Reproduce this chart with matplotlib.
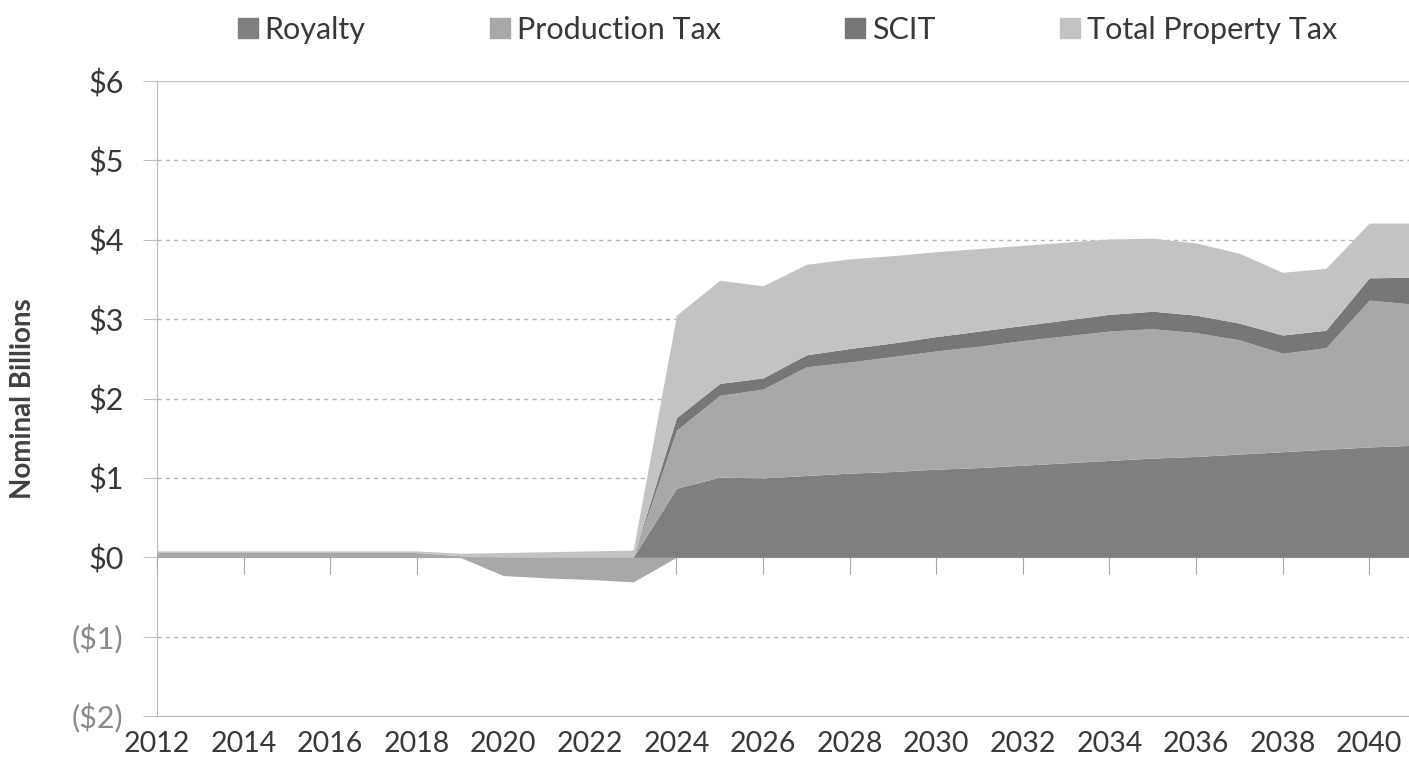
import numpy as np
import matplotlib

matplotlib.use("Agg")
from matplotlib import pyplot as plt  # noqa: E402
from matplotlib.lines import Line2D  # noqa: E402

plt.rcParams["font.family"] = ["Lato", "DejaVu Sans"]

years = list(range(2012, 2042))

# Nominal billions by revenue stream
royalty = [0.00, 0.00, 0.00, 0.00, 0.00, 0.00, 0.00, 0.00, 0.00, 0.00, 0.00, 0.00,
           0.87, 1.01, 1.00, 1.03, 1.06, 1.08, 1.11, 1.13, 1.16, 1.19, 1.22, 1.25,
           1.27, 1.30, 1.33, 1.36, 1.39, 1.41]
production_tax = [0.06, 0.06, 0.06, 0.06, 0.06, 0.06, 0.06, 0.02, -0.23, -0.26, -0.28, -0.31,
                  0.73, 1.03, 1.12, 1.37, 1.40, 1.45, 1.49, 1.53, 1.57, 1.60, 1.63, 1.63,
                  1.56, 1.44, 1.24, 1.28, 1.85, 1.78]
scit = [0.00, 0.00, 0.00, 0.00, 0.00, 0.00, 0.00, 0.00, 0.00, 0.00, 0.00, 0.00,
        0.16, 0.15, 0.14, 0.15, 0.17, 0.17, 0.18, 0.19, 0.19, 0.20, 0.21, 0.22,
        0.22, 0.21, 0.23, 0.22, 0.28, 0.34]
property_tax = [0.02, 0.02, 0.02, 0.02, 0.02, 0.02, 0.02, 0.03, 0.06, 0.07, 0.08, 0.09,
                1.29, 1.30, 1.16, 1.14, 1.13, 1.10, 1.07, 1.04, 1.01, 0.98, 0.95, 0.92,
                0.91, 0.88, 0.79, 0.78, 0.69, 0.68]

series = [
    ("Royalty", royalty, "#7f7f7f"),
    ("Production Tax", production_tax, "#a8a8a8"),
    ("SCIT", scit, "#777777"),
    ("Total Property Tax", property_tax, "#c3c3c3"),
]

fig = plt.figure(figsize=(14.09, 7.76), dpi=100)
ax = fig.add_axes([0.1114, 0.0773, 0.8886, 0.8183])

# positive and negative parts stack away from zero separately
x = np.array(years, dtype=float)
pos_base = np.zeros(len(years))
neg_base = np.zeros(len(years))
for name, values, color in series:
    v = np.array(values, dtype=float)
    pos = np.clip(v, 0, None)
    neg = np.clip(v, None, 0)
    ax.fill_between(x, pos_base, pos_base + pos, color=color, lw=0, zorder=2)
    ax.fill_between(x, neg_base, neg_base + neg, color=color, lw=0, zorder=2)
    pos_base = pos_base + pos
    neg_base = neg_base + neg

ax.set_xlim(2012, 2040.92)
ax.set_ylim(-2, 6)

# dashed gridlines behind the areas
for level in [-1, 1, 2, 3, 4, 5]:
    ax.axhline(level, color="#b5b5b5", lw=1.0, ls=(0, (3, 3)), zorder=0.5)
ax.axhline(6, color="#c8c8c8", lw=1.0, zorder=0.5)

for side in ["top", "right"]:
    ax.spines[side].set_visible(False)
ax.spines["left"].set_color("#b8b8b8")
ax.spines["left"].set_zorder(0.6)
ax.spines["bottom"].set_position(("data", 0))
ax.spines["bottom"].set_color("#a8a8a8")
ax.spines["bottom"].set_zorder(0.6)

# category ticks hang off the zero line, labels sit below the plot
ax.set_xticks(years[::2])
ax.tick_params(axis="x", direction="out", length=12, color="#a8a8a8", labelbottom=False)
bottom_axis = ax.secondary_xaxis(0.0)
bottom_axis.set_xticks(years[::2], labels=[str(y) for y in years[::2]])
bottom_axis.tick_params(length=0, pad=11, labelsize=20.5, labelcolor="#383838")
bottom_axis.spines["bottom"].set_color("#b8b8b8")

yticks = list(range(-2, 7))
ylabels = [f"(${-t})" if t < 0 else f"${t}" for t in yticks]
ax.set_yticks(yticks, labels=ylabels)
ax.tick_params(axis="y", direction="out", length=10, color="#c0c0c0", labelsize=22, pad=14)
for t, lab in zip(yticks, ax.get_yticklabels()):
    lab.set_color("#8a8a8a" if t < 0 else "#383838")

ax.set_ylabel("Nominal Billions", fontsize=20, fontweight="bold", color="#404040", labelpad=26)

handles = [
    Line2D([], [], marker="s", ls="none", markersize=14, color=color, label=name)
    for name, _, color in series
]
fig.legend(handles=handles, loc="upper center", bbox_to_anchor=(0.558, 1.015), ncol=4,
           frameon=False, fontsize=22, handletextpad=0.15, columnspacing=4.0,
           handlelength=0.8, labelcolor="#383838")

fig.savefig("out.png", dpi=100)
